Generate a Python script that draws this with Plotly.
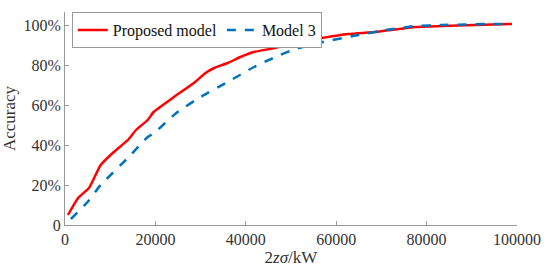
import plotly.graph_objects as go

x_prop = [660, 2900, 5300, 7900, 10800, 13900, 15700, 18300, 19600, 24100, 28500, 31100,
          33000, 36000, 38800, 41800, 46400, 51600, 55400, 62700, 68700, 77500, 83400,
          90700, 98900]
y_prop = [5, 13.5, 18.5, 30, 36.5, 42.5, 47.5, 52.5, 56.5, 64, 71, 76,
          78.5, 81, 84, 86.5, 88.5, 91.5, 93, 95.5, 96.5, 99, 99.5,
          100, 100.5]

x_m3 = [1300, 5000, 7900, 13900, 18300, 19700, 24900, 30000, 36000, 41800, 46400,
        50300, 57000, 64900, 70900, 77500, 83400, 94500, 98900]
y_m3 = [3, 11.5, 20, 33.5, 44, 46, 56.5, 64, 71.5, 79, 83.8,
        87.5, 91.5, 95, 97.5, 99.5, 100, 100.5, 100.5]

y_ticks = [0, 20, 40, 60, 80, 100]
y_tick_text = ["0", "20%", "40%", "60%", "80%", "100%"]
x_ticks = [0, 20000, 40000, 60000, 80000, 100000]
x_tick_text = ["0", "20000", "40000", "60000", "80000", "100000"]

serif = "Liberation Serif, Times New Roman, DejaVu Serif, serif"

fig = go.Figure()
fig.add_trace(go.Scatter(x=x_prop, y=y_prop, mode="lines", name="Proposed model",
                         line=dict(color="#ff0000", width=2.5, shape="spline", smoothing=0.5)))
fig.add_trace(go.Scatter(x=x_m3, y=y_m3, mode="lines", name="Model 3",
                         line=dict(color="#0072bd", width=2.5, dash="dash", shape="spline",
                                   smoothing=0.5)))

axis_style = dict(showline=True, linecolor="#999999", linewidth=1, ticks="inside",
                  ticklen=4, tickcolor="#999999", showgrid=False, zeroline=False,
                  automargin=False,
                  tickfont=dict(family=serif, size=16, color="#333333"))

fig.update_xaxes(range=[0, 100000], tickvals=x_ticks, ticktext=x_tick_text, **axis_style,
                 title=dict(text="2<i>zσ</i>/kW", standoff=2,
                            font=dict(family=serif, size=17, color="#333333")))
fig.update_yaxes(range=[0, 106.5], tickvals=y_ticks, ticktext=y_tick_text, **axis_style,
                 title=dict(text="Accuracy", standoff=4,
                            font=dict(family=serif, size=17, color="#333333")))

fig.update_layout(
    width=550, height=273,
    margin=dict(l=65, r=33, t=12, b=48),
    plot_bgcolor="white", paper_bgcolor="white",
    legend=dict(orientation="h", x=0.015, y=1.0, xanchor="left", yanchor="top",
                bordercolor="#999999", borderwidth=1, bgcolor="white",
                font=dict(family=serif, size=16, color="#111111"),
                itemwidth=30, tracegroupgap=0),
    showlegend=True,
)

fig.write_html("out.html", config={"displayModeBar": False},
               post_script="document.body.style.margin='0';")
